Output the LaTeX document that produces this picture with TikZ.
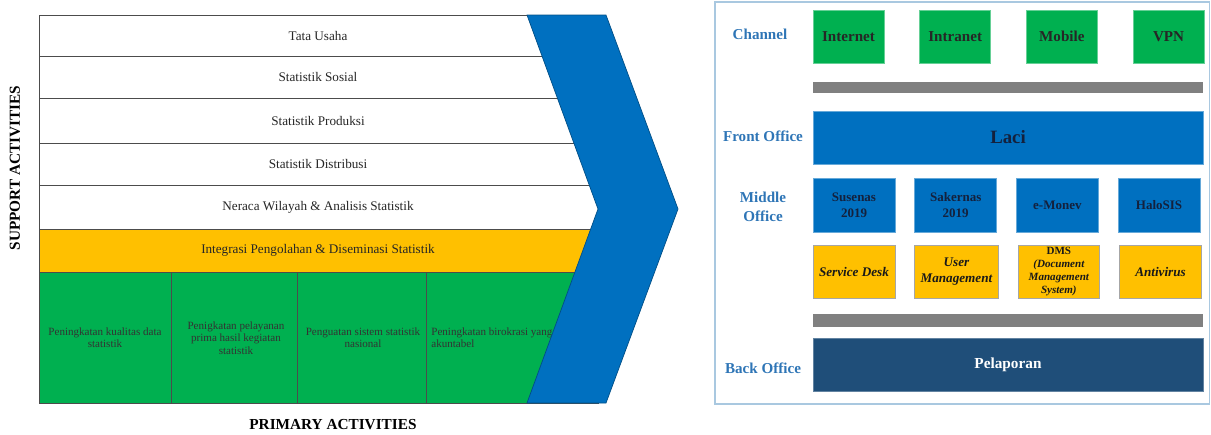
\documentclass[tikz,border=0pt]{standalone}
\usepackage{fontspec}
\setmainfont{Liberation Serif}
\usepackage{xcolor}
\usetikzlibrary{positioning}
\definecolor{chgreen}{HTML}{00B050}
\definecolor{chyellow}{HTML}{FFC000}
\definecolor{chblue}{HTML}{0070C0}
\definecolor{chnavy}{HTML}{1F4E79}
\definecolor{chgray}{HTML}{808080}
\definecolor{lblblue}{HTML}{2E75B6}
\definecolor{framecol}{HTML}{A9C8E0}
\definecolor{inktext}{HTML}{14213D}

\begin{document}
\begin{tikzpicture}[x=0.02cm, y=-0.02cm,
    rowline/.style={draw=black!70, line width=0.5pt},
    rowtext/.style={font=\fontsize{7.5}{9}\selectfont, text=black!85},
    primtext/.style={font=\fontsize{6.3}{7}\selectfont, align=center, text=black!80},
    sidelabel/.style={font=\bfseries\fontsize{8.7}{10}\selectfont},
    chevron/.style={fill=chblue, draw=chblue!70!black, line width=0.4pt},
    framebox/.style={draw=framecol, line width=0.6pt},
    layerlabel/.style={font=\bfseries\fontsize{8.6}{10.5}\selectfont, text=lblblue, align=center},
    chanbox/.style={fill=chgreen, draw=chgreen!60, line width=0.4pt, minimum width=1.42cm, minimum height=1.06cm, font=\bfseries\fontsize{8.6}{10}\selectfont, text=black!85},
    appbox/.style={fill=chblue, draw=chblue!60, line width=0.4pt, minimum width=1.64cm, minimum height=1.08cm, align=center, font=\bfseries\fontsize{7.4}{9}\selectfont, text=inktext},
    svcbox/.style={fill=chyellow, draw=black!35, line width=0.4pt, minimum width=1.64cm, minimum height=1.06cm, align=center, font=\bfseries\itshape\fontsize{7.5}{8.8}\selectfont, text=black!90},
    widebox/.style={minimum width=7.8cm, minimum height=1.06cm, inner sep=0pt},
    busbar/.style={fill=chgray, minimum width=7.8cm, minimum height=0.22cm, inner sep=0pt}]
    \useasboundingbox (0,0) rectangle (1211,434);

    % Support activities
    \foreach \ya/\yb/\name/\txt in {15/56/tata/Tata Usaha, 56/98/sosial/Statistik Sosial,
        98/143/produksi/Statistik Produksi, 143/185/distribusi/Statistik Distribusi,
        185/229/neraca/Neraca Wilayah \& Analisis Statistik}{
        \draw[rowline, fill=white] (39,\ya) rectangle (598,\yb);
        \node[rowtext] (\name) at (318,{(\ya+\yb)/2}) {\txt};
    }
    \draw[rowline, fill=chyellow] (39,229) rectangle (598,272);
    \node[rowtext] (integrasi) at (318,250.5) {Integrasi Pengolahan \& Diseminasi Statistik};

    % Primary activities
    \draw[rowline, fill=chgreen] (39,272) rectangle (598,403);
    \foreach \x in {171,297,426}
        \draw[draw=black!70, line width=0.5pt] (\x,272) -- (\x,403);
    \node[primtext] (kualitas) at (105,338) {Peningkatan kualitas data\\statistik};
    \node[primtext] (pelayanan) at (236,338) {Penigkatan pelayanan\\prima hasil kegiatan\\statistik};
    \node[primtext] (sistem) at (363,338) {Penguatan sistem statistik\\nasional};
    \node[primtext, anchor=west, align=left, inner sep=0pt] (birokrasi) at (431,338) {Peningkatan birokrasi yang\\akuntabel};

    % Arrow
    \draw[chevron] (527,15) -- (606,15) -- (678,209) -- (606,403) -- (527,403) -- (598,209) -- cycle;

    \node[sidelabel, rotate=90] (support) at (15,168) {SUPPORT ACTIVITIES};
    \node[sidelabel] (primary) at (333,425) {PRIMARY ACTIVITIES};

    % Layers
    \draw[framebox] (715,2) rectangle (1209.5,404);
    \node[layerlabel] (channel) at (760,34) {Channel};
    \node[layerlabel] (front) at (763,136) {Front Office};
    \node[layerlabel] (middle) at (763,207) {Middle\\Office};
    \node[layerlabel] (back) at (763,368) {Back Office};

    % Channel
    \node[chanbox] (internet) at (848.5,36.5) {Internet};
    \node[chanbox, right=0.7cm of internet] (intranet) {Intranet};
    \node[chanbox, right=0.7cm of intranet] (mobile) {Mobile};
    \node[chanbox, right=0.7cm of mobile] (vpn) {VPN};
    \node[busbar] (bustop) at (1008,87.5) {};

    % Front office
    \node[widebox, fill=chblue, draw=chblue!60, font=\bfseries\fontsize{10.7}{12}\selectfont, text=inktext] (laci) at (1008,137.5) {Laci};

    % Middle office
    \node[appbox] (susenas) at (854,205) {Susenas\\2019};
    \node[appbox, right=0.38cm of susenas] (sakernas) {Sakernas\\2019};
    \node[appbox, right=0.38cm of sakernas] (emonev) {e-Monev};
    \node[appbox, right=0.38cm of emonev] (halosis) {HaloSIS};
    \node[svcbox] (servicedesk) at (854,271.5) {Service Desk};
    \node[svcbox, right=0.38cm of servicedesk] (usermgmt) {User\\Management};
    \node[svcbox, right=0.38cm of usermgmt, inner ysep=0pt, font=\bfseries\fontsize{6.3}{7.3}\selectfont] (dms) {DMS\\\itshape (Document\\\itshape Management\\\itshape System)};
    \node[svcbox, right=0.38cm of dms] (antivirus) {Antivirus};
    \node[busbar, minimum height=0.25cm] (busbottom) at (1008,320.5) {};

    % Back office
    \node[widebox, fill=chnavy, draw=chnavy!70, font=\bfseries\fontsize{8.7}{10}\selectfont, text=white] (pelaporan) at (1008,364.5) {Pelaporan};
\end{tikzpicture}
\end{document}
